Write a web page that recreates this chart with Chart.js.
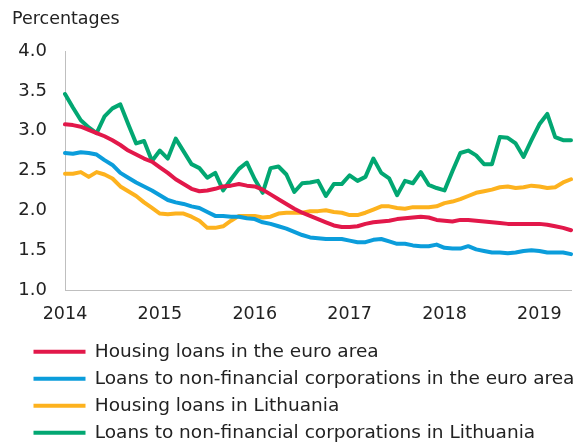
<!DOCTYPE html>
<html>
<head>
<meta charset="utf-8">
<script src="https://cdn.jsdelivr.net/npm/chart.js@4"></script>
<style>
  html, body { margin: 0; padding: 0; background: #fff; }
  #wrap { width: 585px; height: 443px; }
</style>
</head>
<body>
<div id="wrap"><canvas id="ratesChart"></canvas></div>
<script>
// Interest rates on new loans, Jan 2014 - May 2019 (monthly), percentages
const years = ['2014', '2015', '2016', '2017', '2018', '2019'];
const lastYearMonths = 5;

const housingEA = [
    3.08, 3.07, 3.05, 3.01, 2.97, 2.93, 2.88, 2.82, 2.75, 2.70, 2.65, 2.61,
    2.54, 2.47, 2.39, 2.33, 2.27, 2.24, 2.25, 2.27, 2.30, 2.31, 2.33, 2.31,
    2.30, 2.26, 2.20, 2.14, 2.08, 2.02, 1.97, 1.93, 1.89, 1.85, 1.81, 1.79,
    1.79, 1.80, 1.83, 1.85, 1.86, 1.87, 1.89, 1.90, 1.91, 1.92, 1.91, 1.88,
    1.87, 1.86, 1.88, 1.88, 1.87, 1.86, 1.85, 1.84, 1.83, 1.83, 1.83, 1.83,
    1.83, 1.82, 1.80, 1.78, 1.75
];
const nfcEA = [
    2.72, 2.71, 2.73, 2.72, 2.70, 2.63, 2.57, 2.47, 2.41, 2.35, 2.30, 2.25,
    2.19, 2.13, 2.10, 2.08, 2.05, 2.03, 1.98, 1.93, 1.93, 1.92, 1.92, 1.90,
    1.89, 1.85, 1.83, 1.80, 1.77, 1.73, 1.69, 1.66, 1.65, 1.64, 1.64, 1.64,
    1.62, 1.60, 1.60, 1.63, 1.64, 1.61, 1.58, 1.58, 1.56, 1.55, 1.55, 1.57,
    1.53, 1.52, 1.52, 1.55, 1.51, 1.49, 1.47, 1.47, 1.46, 1.47, 1.49, 1.50,
    1.49, 1.47, 1.47, 1.47, 1.45
];
const housingLT = [
    2.46, 2.46, 2.48, 2.42, 2.48, 2.45, 2.40, 2.30, 2.24, 2.18, 2.10, 2.03,
    1.96, 1.95, 1.96, 1.96, 1.92, 1.87, 1.78, 1.78, 1.80, 1.87, 1.93, 1.93,
    1.93, 1.91, 1.92, 1.96, 1.97, 1.97, 1.97, 1.99, 1.99, 2.00, 1.98, 1.97,
    1.94, 1.94, 1.97, 2.01, 2.05, 2.05, 2.03, 2.02, 2.04, 2.04, 2.04, 2.05,
    2.09, 2.11, 2.14, 2.18, 2.22, 2.24, 2.26, 2.29, 2.30, 2.28, 2.29, 2.31,
    2.30, 2.28, 2.29, 2.35, 2.39
];
const nfcLT = [
    3.46, 3.29, 3.13, 3.04, 2.97, 3.18, 3.28, 3.33, 3.08, 2.84, 2.87, 2.62,
    2.75, 2.65, 2.90, 2.74, 2.58, 2.53, 2.41, 2.47, 2.25, 2.39, 2.52, 2.60,
    2.39, 2.22, 2.53, 2.55, 2.45, 2.23, 2.34, 2.35, 2.37, 2.18, 2.33, 2.33,
    2.44, 2.37, 2.42, 2.65, 2.47, 2.40, 2.19, 2.37, 2.34, 2.48, 2.32, 2.28,
    2.25, 2.49, 2.72, 2.75, 2.69, 2.58, 2.58, 2.92, 2.91, 2.84, 2.67, 2.88,
    3.08, 3.21, 2.92, 2.88, 2.88
];

// month labels like "2014-01"
const months = [];
years.forEach((y, i) => {
    const n = i < years.length - 1 ? 12 : lastYearMonths;
    for (let m = 1; m <= n; m++) {
        months.push(y + '-' + String(m).padStart(2, '0'));
    }
});

const font = 'DejaVu Sans';
const textColor = '#222222';
const axisColor = '#bfbfbf';

// push the legend to the right without touching the title
const legendIndent = {
    id: 'legendIndent',
    afterLayout(chart) {
        chart.legend.left += 13;
        chart.legend.right += 13;
    }
};

function series(label, data, color) {
    return {
        label: label,
        data: data,
        borderColor: color,
        backgroundColor: color,
        borderWidth: 4,
        borderCapStyle: 'round',
        borderJoinStyle: 'round',
        pointRadius: 0,
        tension: 0
    };
}

const ctx = document.getElementById('ratesChart').getContext('2d');
const ratesChart = new Chart(ctx, {
    type: 'line',
    data: {
        labels: months,
        datasets: [
            series('Housing loans in the euro area', housingEA, '#e2184a'),
            series('Loans to non-financial corporations in the euro area', nfcEA, '#0b9ddb'),
            series('Housing loans in Lithuania', housingLT, '#fdb21e'),
            series('Loans to non-financial corporations in Lithuania', nfcLT, '#02a772')
        ]
    },
    options: {
        responsive: true,
        maintainAspectRatio: false,
        animation: false,
        layout: {
            padding: { left: 12, right: 13, top: 0, bottom: -9 }
        },
        scales: {
            x: {
                grid: { display: true, drawOnChartArea: false, drawTicks: false },
                border: { color: axisColor, width: 1 },
                ticks: {
                    autoSkip: false,
                    maxRotation: 0,
                    padding: 14,
                    color: textColor,
                    font: { family: font, size: 17.5 },
                    callback: function (value) {
                        const lab = this.getLabelForValue(value);
                        return lab.endsWith('-01') ? lab.slice(0, 4) : '';
                    }
                },
                afterFit: function (scale) {
                    scale.height = 44;
                }
            },
            y: {
                min: 1,
                max: 4,
                grid: { display: true, drawOnChartArea: false, drawTicks: false },
                border: { color: axisColor, width: 1 },
                ticks: {
                    stepSize: 0.5,
                    padding: 18,
                    color: textColor,
                    font: { family: font, size: 18 },
                    callback: function (value) {
                        return value.toFixed(1);
                    }
                },
                afterFit: function (scale) {
                    scale.width = 53;
                }
            }
        },
        plugins: {
            title: {
                display: true,
                text: 'Percentages',
                align: 'start',
                color: textColor,
                font: { family: font, size: 17.5, weight: 'normal' },
                padding: { top: 8.5, bottom: 21.5 }
            },
            legend: {
                display: true,
                position: 'bottom',
                align: 'start',
                labels: {
                    usePointStyle: true,
                    pointStyle: 'line',
                    pointStyleWidth: 52,
                    padding: 8.5,
                    color: textColor,
                    font: { family: font, size: 18.5 }
                }
            },
            tooltip: { enabled: false }
        }
    },
    plugins: [legendIndent]
});
</script>
</body>
</html>
